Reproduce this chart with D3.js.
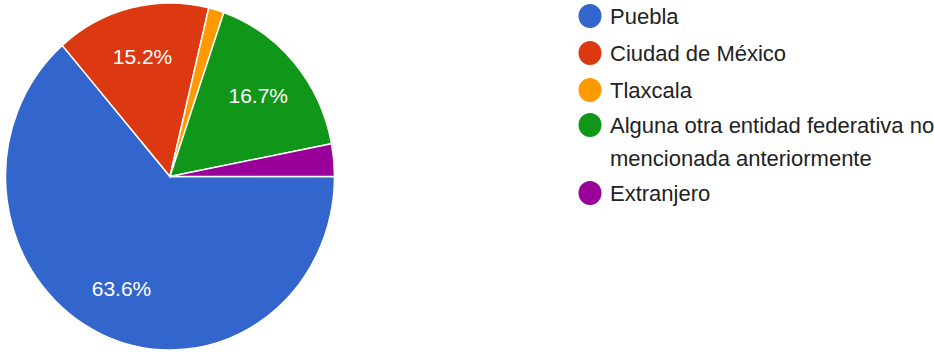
<!DOCTYPE html>
<html>
<head>
<meta charset="utf-8">
<script src="https://cdn.jsdelivr.net/npm/d3@7"></script>
<style>
  html, body { margin: 0; padding: 0; background: #fff; }
  svg { display: block; font-family: "Liberation Sans", Arial, sans-serif; }
</style>
</head>
<body>
<svg id="chart" width="934" height="352"></svg>
<script>
// Lugar de procedencia (respuestas)
const categories = [
  "Puebla",
  "Ciudad de México",
  "Tlaxcala",
  "Alguna otra entidad federativa no mencionada anteriormente",
  "Extranjero"
];
const counts = [42, 10, 1, 11, 2];
const colors = ["#3366cc", "#dc3912", "#ff9900", "#109618", "#990099"];
const legendLines = [
  ["Puebla"],
  ["Ciudad de México"],
  ["Tlaxcala"],
  ["Alguna otra entidad federativa no", "mencionada anteriormente"],
  ["Extranjero"]
];

const total = d3.sum(counts);
const data = categories.map((c, i) => ({ name: c, value: counts[i], color: colors[i] }));

const svg = d3.select("#chart");
const cx = 170, cy = 176.5, rx = 164.5, ry = 173.5;
const R = ry;
const sx = rx / ry;

const pie = d3.pie()
  .value(d => d.value)
  .sort(null)
  .startAngle(Math.PI / 2)
  .endAngle(Math.PI / 2 + 2 * Math.PI);
const arcs = pie(data);

const arc = d3.arc().innerRadius(0).outerRadius(R);
const labelArc = d3.arc().innerRadius(R * 0.71).outerRadius(R * 0.71);

const pieG = svg.append("g")
  .attr("transform", `translate(${cx},${cy}) scale(${sx},1)`);

pieG.selectAll("path")
  .data(arcs)
  .join("path")
  .attr("d", arc)
  .attr("fill", d => d.data.color)
  .attr("stroke", "#fff")
  .attr("stroke-width", 1.5)
  .attr("vector-effect", "non-scaling-stroke");

// Percentage labels on the larger slices
const labelG = svg.append("g").attr("transform", `translate(${cx},${cy})`);
labelG.selectAll("text")
  .data(arcs.filter(d => d.data.value / total >= 0.05))
  .join("text")
  .attr("x", d => labelArc.centroid(d)[0] * sx)
  .attr("y", d => labelArc.centroid(d)[1])
  .attr("text-anchor", "middle")
  .attr("dominant-baseline", "central")
  .attr("fill", "#fff")
  .attr("font-size", 21)
  .text(d => (d.data.value / total * 100).toFixed(1) + "%");

// Legend
const legend = svg.append("g").attr("transform", "translate(590,16)");
const rowY = [0, 37, 74, 109, 177];
legendLines.forEach((lines, i) => {
  const g = legend.append("g").attr("transform", `translate(0,${rowY[i]})`);
  g.append("ellipse")
    .attr("rx", 11.5).attr("ry", 12)
    .attr("fill", colors[i]);
  lines.forEach((t, j) => {
    g.append("text")
      .attr("x", 20)
      .attr("y", j * 33)
      .attr("dominant-baseline", "central")
      .attr("fill", "#222")
      .attr("font-size", 22)
      .text(t);
  });
});
</script>
</body>
</html>
